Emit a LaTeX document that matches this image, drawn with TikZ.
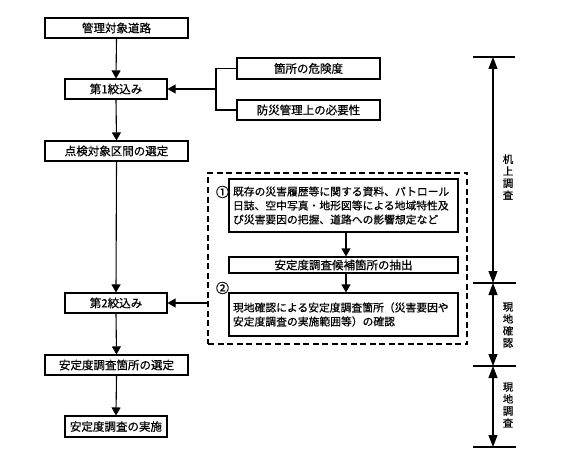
\documentclass[tikz,border=0pt]{standalone}
\usepackage{fontspec}
\setmainfont{Noto Sans CJK JP}[FakeBold=0.5]
\usetikzlibrary{arrows.meta}
\tikzset{
  box/.style={draw, line width=1.1pt, inner sep=0pt, font=\fontsize{11.5}{13}\selectfont},
  tbox/.style={draw, line width=1.1pt, inner xsep=4pt, inner ysep=0pt, align=left, font=\fontsize{10.8}{14}\selectfont},
  arr/.style={line width=1.1pt, -{Triangle[length=8pt,width=9pt]}},
  darr/.style={line width=1.1pt, {Triangle[length=12pt,width=9pt]}-{Triangle[length=12pt,width=9pt]}},
  ln/.style={line width=1.1pt},
  vlab/.style={align=center, inner sep=0pt, font=\fontsize{10.5}{12}\selectfont},
  num/.style={inner sep=0pt, font=\fontsize{13}{14}\selectfont}
}
\begin{document}
\begin{tikzpicture}[x=1pt,y=-1pt]
\useasboundingbox (0,0) rectangle (575,473);
% left column
\node[box, minimum width=143, minimum height=20] (A) at (116.5,28) {管理対象道路};
\node[box, minimum width=102, minimum height=20] (B) at (116,89) {第1絞込み};
\node[box, minimum width=143, minimum height=20] (C) at (116.5,151) {点検対象区間の選定};
\node[box, minimum width=102, minimum height=20] (D) at (116,303) {第2絞込み};
\node[box, minimum width=143, minimum height=20] (E) at (116.5,365) {安定度調査箇所の選定};
\node[box, minimum width=102, minimum height=21] (F) at (116,426.5) {安定度調査の実施};
\draw[arr] (A.south) -- (B.north);
\draw[arr] (B.south) -- (C.north);
\draw[arr] (C.south) -- (D.north);
\draw[arr] (D.south) -- (E.north);
\draw[arr] (E.south) -- (F.north);
% first criteria
\node[box, minimum width=143, minimum height=21] (R1) at (308.5,68.5) {箇所の危険度};
\node[box, minimum width=143, minimum height=20] (R2) at (308.5,110) {防災管理上の必要性};
\coordinate (br) at (216,89);
\draw[ln] (R1.west) -- (R1.west -| br) -- (R2.west -| br) -- (R2.west);
\draw[arr] (br) -- (B.east);
% dashed group
\node[draw, line width=1.1pt, dash pattern=on 6pt off 3.5pt, minimum width=259, minimum height=171, inner sep=0pt] (G) at (337.5,258.5) {};
\node[tbox, minimum width=229, minimum height=53, text width=221pt] (P1) at (343.5,205.5) {既存の災害履歴等に関する資料、パトロール\\日誌、空中写真・地形図等による地域特性及\\び災害要因の把握、道路への影響想定など};
\node[box, minimum width=229, minimum height=16] (P2) at (343.5,265) {安定度調査候補箇所の抽出};
\node[tbox, minimum width=229, minimum height=43, text width=221pt] (P3) at (343.5,314.5) {現地確認による安定度調査箇所（災害要因や\\安定度調査の実施範囲等）の確認};
\node[num] (n1) at (222.5,192) {①};
\node[num] (n2) at (222.5,288) {②};
\coordinate (ax) at (346,0);
\draw[arr] (P1.south -| ax) -- (P2.north -| ax);
\draw[arr] (P2.south -| ax) -- (P3.north -| ax);
\draw[arr] (G.west |- D.east) -- (D.east);
% dimension lines
\coordinate (t1) at (493,57);
\coordinate (t2) at (493,283);
\coordinate (t3) at (493,366);
\coordinate (t4) at (493,447);
\draw[ln] (473,57) -- (515,57);
\draw[ln] (473,283) -- (516,283);
\draw[ln] (473,366) -- (516,366);
\draw[ln] (473,447) -- (516,447);
\draw[darr] (t1) -- (t2);
\draw[darr] (t2) -- (t3);
\draw[darr] (t3) -- (t4);
\node[vlab] (L1) at (508,177) {机\\上\\調\\査};
\node[vlab] (L2) at (508,325) {現\\地\\確\\認};
\node[vlab] (L3) at (508,405) {現\\地\\調\\査};
\end{tikzpicture}
\end{document}
